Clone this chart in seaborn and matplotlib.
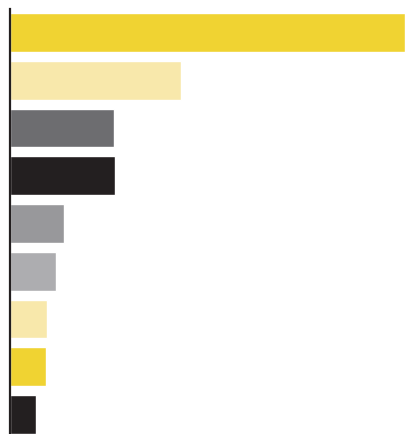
import numpy as np
import pandas as pd
import matplotlib
matplotlib.use('Agg')
import matplotlib.pyplot as plt
import seaborn as sns

# values (bar lengths in pixels, relative scale)
categories = ['a', 'b', 'c', 'd', 'e', 'f', 'g', 'h', 'i']
values = [395, 171, 104, 105, 54, 46, 37, 36, 26]
colors = ['#F0D332', '#F8E8AB', '#6D6D70', '#231F20', '#98989B',
          '#ADADB0', '#F8E8AB', '#F0D332', '#231F20']

df = pd.DataFrame({'cat': categories, 'val': values})

sns.set_style('white')
fig = plt.figure(figsize=(4.05, 4.35), dpi=100)
ax = fig.add_axes([9.5 / 405, 0, 395.5 / 405, 425 / 435])

sns.barplot(data=df, x='val', y='cat', hue='cat', palette=colors,
            orient='h', width=39 / 48, legend=False, ax=ax, saturation=1)

ax.set_xlim(0, 395)
ax.set_ylim(8.406, -0.49)
ax.set_xlabel('')
ax.set_ylabel('')
ax.set_xticks([])
ax.set_yticks([])
for s in ['top', 'right', 'bottom']:
    ax.spines[s].set_visible(False)
ax.spines['left'].set_color('#231F20')
ax.spines['left'].set_linewidth(1.6)

fig.savefig('out.png', dpi=100)
